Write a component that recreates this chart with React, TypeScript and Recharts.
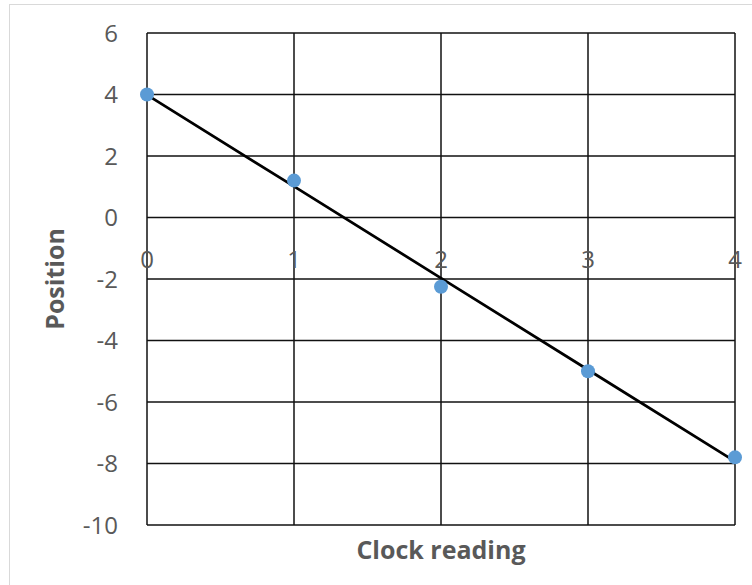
import React from "react";
import {
  ComposedChart,
  Scatter,
  Line,
  XAxis,
  YAxis,
  CartesianGrid,
  Label,
} from "recharts";

const clockReadings = [0, 1, 2, 3, 4];
const positions = [4.0, 1.2, -2.25, -5.0, -7.8];
const xTicks = [0, 1, 2, 3, 4];
const yTicks = [-10, -8, -6, -4, -2, 0, 2, 4, 6];

// least-squares linear trendline, computed from the data
const n = clockReadings.length;
const mx = clockReadings.reduce((a, b) => a + b, 0) / n;
const my = positions.reduce((a, b) => a + b, 0) / n;
const slope =
  clockReadings.reduce((s, x, i) => s + (x - mx) * (positions[i] - my), 0) /
  clockReadings.reduce((s, x) => s + (x - mx) * (x - mx), 0);
const intercept = my - slope * mx;

const data = clockReadings.map((x, i) => ({
  x,
  y: positions[i],
  trend: intercept + slope * x,
}));

const W = 752;
const H = 585;
const PLOT_LEFT = 147;
const PLOT_TOP = 33;
const PLOT_BOTTOM = 525;
const PLOT_RIGHT = 735;
const Y_AXIS_W = 60;
const X_AXIS_H = H - PLOT_BOTTOM;
const plotH = PLOT_BOTTOM - PLOT_TOP;
const yMin = -10;
const yMax = 6;
const zeroY = PLOT_TOP + ((yMax - 0) / (yMax - yMin)) * plotH;

const FONT = "'Open Sans', 'Noto Sans', sans-serif";
const TEXT = "#595959";

const XTick = (props: any) => {
  const { x, payload } = props;
  return (
    <text
      x={x}
      y={zeroY + 41}
      textAnchor="middle"
      dominantBaseline="central"
      fill={TEXT}
      fontSize={24}
      fontFamily={FONT}
    >
      {payload.value}
    </text>
  );
};

export default function App() {
  return (
    <div
      style={{
        position: "absolute",
        left: 0,
        top: 0,
        width: W,
        height: H,
        background: "#fff",
      }}
    >
      <div
        style={{
          position: "absolute",
          left: 9,
          top: 4,
          right: 0,
          bottom: 0,
          borderLeft: "1.5px solid #d9d9d9",
          borderTop: "1.5px solid #d9d9d9",
        }}
      />
      <div style={{ position: "absolute", left: 0, top: 0 }}>
        <ComposedChart
          width={W}
          height={H}
          data={data}
          margin={{
            top: PLOT_TOP,
            right: W - PLOT_RIGHT,
            bottom: 0,
            left: PLOT_LEFT - Y_AXIS_W,
          }}
        >
          <CartesianGrid stroke="#111" strokeWidth={1.5} />
          <XAxis
            type="number"
            dataKey="x"
            domain={[0, 4]}
            ticks={xTicks}
            axisLine={false}
            tickLine={false}
            tick={<XTick />}
            height={X_AXIS_H}
          >
            <Label
              value="Clock reading"
              position="insideBottom"
              offset={26}
              fill={TEXT}
              fontSize={25}
              fontWeight="bold"
              fontFamily={FONT}
            />
          </XAxis>
          <YAxis
            type="number"
            domain={[yMin, yMax]}
            ticks={yTicks}
            width={Y_AXIS_W}
            axisLine={false}
            tickLine={false}
            tickMargin={23}
            tick={{ fill: TEXT, fontSize: 24, fontFamily: FONT }}
            interval={0}
          >
            <Label
              value="Position"
              angle={-90}
              position="center"
              dx={-62}
              fill={TEXT}
              fontSize={25}
              fontWeight="bold"
              fontFamily={FONT}
            />
          </YAxis>
          <Scatter
            dataKey="y"
            fill="#5B9BD5"
            isAnimationActive={false}
            shape={(p: any) => <circle cx={p.cx} cy={p.cy} r={7} fill="#5B9BD5" />}
          />
          <Line
            dataKey="trend"
            stroke="#000"
            strokeWidth={2.75}
            dot={false}
            activeDot={false}
            isAnimationActive={false}
            type="linear"
          />
        </ComposedChart>
      </div>
    </div>
  );
}
